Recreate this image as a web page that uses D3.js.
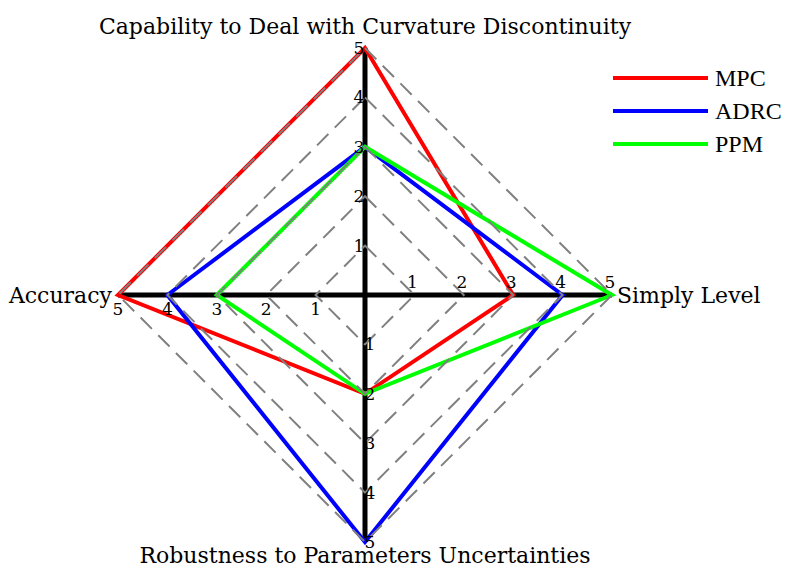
<!DOCTYPE html>
<html><head><meta charset="utf-8">
<script src="https://cdn.jsdelivr.net/npm/d3@7"></script>
<style>body{margin:0;background:#fff}svg{display:block}text{font-family:"DejaVu Serif","Liberation Serif",serif;fill:#000}</style>
</head><body><svg id="c" width="788" height="569"></svg>
<script>
const axes = ["Capability to Deal with Curvature Discontinuity","Simply Level","Robustness to Parameters Uncertainties","Accuracy"];
const seriesNames = ["MPC","ADRC","PPM"];
const mpc  = [5,3,2,5];
const adrc = [3,4,5,4];
const ppm  = [3,5,2,3];
const ticks = [1,2,3,4,5];
const colors = ["#ff0000","#0000ff","#00ff00"];
const data = [mpc, adrc, ppm];

const svg = d3.select("#c");
const cx = 365, cy = 295;
const r = d3.scaleLinear().domain([0,5]).range([0,247]);
const ang = d3.scaleOrdinal().domain(d3.range(4)).range([-Math.PI/2, 0, Math.PI/2, Math.PI]);
const pt = (i,v) => [cx + r(v)*Math.cos(ang(i)), cy + r(v)*Math.sin(ang(i))];
const line = d3.line().curve(d3.curveLinearClosed);

// axes
const g = svg.append("g");
g.append("line").attr("x1",pt(3,5)[0]).attr("y1",cy).attr("x2",pt(1,5)[0]).attr("y2",cy).attr("stroke","#000").attr("stroke-width",5);
g.append("line").attr("x1",cx).attr("y1",pt(0,5)[1]).attr("x2",cx).attr("y2",pt(2,5)[1]).attr("stroke","#000").attr("stroke-width",5);

// series
data.forEach((d,k)=>{
  svg.append("path").attr("d", line(d.map((v,i)=>pt(i,v)))).attr("fill","none")
    .attr("stroke",colors[k]).attr("stroke-width",4).attr("stroke-linejoin","miter");
});

// grid
ticks.forEach(t=>{
  svg.append("path").attr("d", line(d3.range(4).map(i=>pt(i,t)))).attr("fill","none")
    .attr("stroke","#808080").attr("stroke-width",2).attr("stroke-dasharray","16,9");
});

// tick labels
const tl = svg.append("g").style("font-size","17px");
ticks.forEach(t=>{
  let p;
  p = pt(0,t); tl.append("text").attr("x",p[0]-6).attr("y",p[1]+6).attr("text-anchor","middle").text(t);
  p = pt(1,t); tl.append("text").attr("x",p[0]-2).attr("y",p[1]-7).attr("text-anchor","middle").text(t);
  p = pt(2,t); tl.append("text").attr("x",p[0]+5).attr("y",p[1]+6).attr("text-anchor","middle").text(t);
  p = pt(3,t); tl.append("text").attr("x",p[0]).attr("y",p[1]+20).attr("text-anchor","middle").text(t);
});

// axis labels
const al = svg.append("g").style("font-size","22px");
al.append("text").attr("x",cx).attr("y",34).attr("text-anchor","middle").text(axes[0]);
al.append("text").attr("x",pt(1,5)[0]+5).attr("y",cy+8).attr("text-anchor","start").text(axes[1]);
al.append("text").attr("x",cx).attr("y",563).attr("text-anchor","middle").text(axes[2]);
al.append("text").attr("x",pt(3,5)[0]-6).attr("y",cy+8).attr("text-anchor","end").text(axes[3]);

// legend
const lg = svg.append("g");
seriesNames.forEach((n,k)=>{
  const y = 78 + k*33;
  lg.append("line").attr("x1",613).attr("x2",708).attr("y1",y).attr("y2",y).attr("stroke",colors[k]).attr("stroke-width",4);
  lg.append("text").attr("x",715).attr("y",y+8).style("font-family","'Liberation Serif',serif").style("font-size","24px").text(n);
});
</script></body></html>
